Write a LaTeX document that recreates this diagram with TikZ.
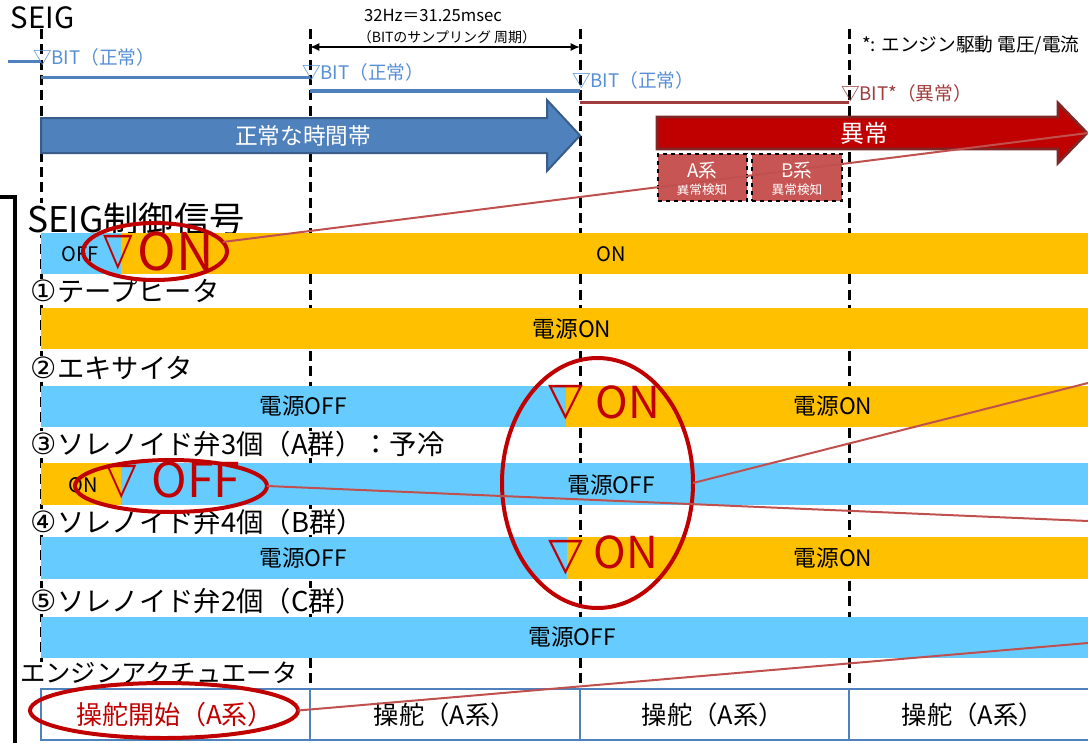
\documentclass[tikz,border=0pt]{standalone}
\usepackage{fontspec}
\setmainfont{Noto Sans CJK JP}
\newfontfamily\circfont{DejaVu Sans}
\newfontfamily\trifont{DejaVu Sans}
\usetikzlibrary{arrows.meta,shapes.geometric}
\definecolor{barblue}{HTML}{66CCFF}
\definecolor{barorange}{HTML}{FFC000}
\definecolor{arrowblue}{HTML}{4F81BD}
\definecolor{arrowblueedge}{HTML}{385D8A}
\definecolor{arrowred}{HTML}{C00000}
\definecolor{arrowrededge}{HTML}{7F2626}
\definecolor{bitblue}{HTML}{558ED5}
\definecolor{linered}{HTML}{A03C3C}
\definecolor{ringred}{HTML}{C00000}
\definecolor{calloutred}{HTML}{C0504D}
\definecolor{sysred}{HTML}{C65553}
\definecolor{actblue}{HTML}{4F81BD}
\newcommand{\setfs}[1]{\fontsize{#1pt}{#1pt}\selectfont}
\newcommand{\circnum}[1]{{\circfont\setfs{22}#1}}
\newcommand{\tri}[2]{\scalebox{#2}[1]{\trifont\bfseries\setfs{#1}▽}}
\tikzset{
  vdash/.style={line width=2.25pt, dash pattern=on 7.5pt off 4pt},
  bluebar/.style={fill=barblue},
  orangebar/.style={fill=barorange},
  rowlabel/.style={anchor=west, font=\setfs{20.5}, fill=white},
  bartext/.style={font=\setfs{17}},
  smalltext/.style={font=\setfs{15}},
  bitlabel/.style={anchor=west, text=bitblue, font=\setfs{14}},
  bitline/.style={draw=arrowblue, line width=2.25pt},
  redring/.style={ellipse, draw=ringred, line width=3pt, inner sep=0pt},
  callout/.style={draw=calloutred, line width=1.5pt},
  bigmark/.style={text=ringred, anchor=base east},
  bigtri/.style={text=ringred, anchor=north},
  actbox/.style={draw=actblue, line width=2pt, fill=white},
  sysbox/.style={draw=black, dashed, line width=1.2pt, fill=sysred},
  every node/.style={inner sep=0pt, outer sep=0pt}
}
\begin{document}
\begin{tikzpicture}[x=0.75pt,y=-0.75pt]
\useasboundingbox (0,0) rectangle (1088,742);
% dashed time lines
\foreach \x in {41,310,580,849} \draw[vdash] (\x,29) -- (\x,689);
% bracket
\draw[line width=2.5pt] (0,197) -- (15,197) -- (15,745);
% title
\node[anchor=west, font=\setfs{22}] (seig) at (11,18) {SEIG};
\node[anchor=west, font=\setfs{14}] (note) at (862,45) {*: エンジン駆動 電圧/電流};
% BIT sampling lines
\coordinate (b0) at (8,62); \coordinate (b1) at (41,62);
\coordinate (b2) at (41,78); \coordinate (b3) at (310,78);
\coordinate (b4) at (310,91); \coordinate (b5) at (580,91);
\coordinate (b6) at (580,102); \coordinate (b7) at (849,102);
\draw[bitline] (b0) -- (b1);
\draw[bitline] (b2) -- (b3);
\draw[bitline] (b4) -- (b5);
\draw[bitline, draw=linered] (b6) -- (b7);
\node[bitlabel] (bit1) at (33,57) {▽BIT（正常）};
\node[bitlabel] (bit2) at (302,72) {▽BIT（正常）};
\node[bitlabel] (bit3) at (572,80) {▽BIT（正常）};
\node[bitlabel, text=linered] (bit4) at (841,93) {▽BIT*（異常）};
% period dimension
\coordinate (p1) at (310,47); \coordinate (p2) at (580,47);
\draw[line width=1.2pt, {Latex[length=7pt,width=6pt]}-{Latex[length=7pt,width=6pt]}] (p1) -- (p2);
\node[font=\setfs{12.5}] (hz) at (433,16) {32Hz＝31.25msec};
\node[font=\setfs{10.5}] (per) at (447,37) {（BITのサンプリング 周期）};
% big arrows
\draw[fill=arrowblue, draw=arrowblueedge, line width=1.5pt]
  (41,118) -- (547,118) -- (547,100) -- (580,135.5) -- (547,171) -- (547,153) -- (41,153) -- cycle;
\node[text=white, font=\setfs{17}] (normal) at (303,136) {正常な時間帯};
\draw[fill=arrowred, draw=arrowrededge, line width=2pt]
  (657,117) -- (1058,117) -- (1058,103) -- (1087,133) -- (1058,163) -- (1058,149) -- (657,149) -- cycle;
\node[text=white, font=\setfs{18}] (abn) at (864,133) {異常};
% detection boxes
\node[sysbox, minimum width=66.75pt, minimum height=35.25pt] (sa) at (702.5,177.5) {};
\node[sysbox, minimum width=67.5pt, minimum height=35.25pt] (sb) at (797,177.5) {};
\node[text=white, font=\setfs{14}] (sat) at (702,171) {A系};
\node[text=white, font=\setfs{9.5}] (sas) at (702,190) {異常検知};
\node[text=white, font=\setfs{14}] (sbt) at (797,171) {B系};
\node[text=white, font=\setfs{9.5}] (sbs) at (797,190) {異常検知};
% row labels (white backing hides the time lines behind them)
\node[rowlabel, font=\setfs{26.5}] (r0) at (27,219) {SEIG制御信号};
\node[rowlabel] (r1) at (31,291) {\circnum{①}テープヒータ};
\node[rowlabel] (r2) at (31,368) {\circnum{②}エキサイタ};
\node[rowlabel] (r3) at (31,444) {\circnum{③}ソレノイド弁3個（A群）：予冷};
\node[rowlabel] (r4) at (31,522) {\circnum{④}ソレノイド弁4個（B群）};
\node[rowlabel] (r5) at (31,601) {\circnum{⑤}ソレノイド弁2個（C群）};
\node[rowlabel, font=\setfs{19}] (r6) at (20,673) {エンジンアクチュエータ};
% bars
\fill[bluebar] (41,233) rectangle (121,274);
\fill[orangebar] (121,233) rectangle (1088,274);
\fill[orangebar] (41,308) rectangle (1088,349);
\fill[bluebar] (41,386) rectangle (566,427);
\fill[orangebar] (566,386) rectangle (1088,427);
\fill[orangebar] (41,463) rectangle (121,505);
\fill[bluebar] (121,463) rectangle (1088,505);
\fill[bluebar] (41,537) rectangle (567,579);
\fill[orangebar] (567,537) rectangle (1088,579);
\fill[bluebar] (41,617) rectangle (1088,658);
\node[smalltext] (t1a) at (80,254) {OFF};
\node[smalltext] (t1b) at (611,254) {ON};
\node[bartext] (t2) at (572,329) {電源ON};
\node[bartext] (t3a) at (303,406) {電源OFF};
\node[bartext] (t3b) at (833,406) {電源ON};
\node[smalltext] (t4a) at (83,485) {ON};
\node[bartext] (t4b) at (611,485) {電源OFF};
\node[bartext] (t5a) at (303,558) {電源OFF};
\node[bartext] (t5b) at (833,558) {電源ON};
\node[bartext] (t6) at (572,637) {電源OFF};
% actuator boxes
\draw[actbox] (41,689) rectangle (310,740);
\draw[actbox] (310,689) rectangle (580,740);
\draw[actbox] (580,689) rectangle (849,740);
\draw[actbox] (849,689) rectangle (1092,740);
\node[text=arrowred, font=\setfs{19.5}] (a1) at (175,715) {操舵開始（A系）};
\node[font=\setfs{19}] (a2) at (445,715) {操舵（A系）};
\node[font=\setfs{19}] (a3) at (713,715) {操舵（A系）};
\node[font=\setfs{19}] (a4) at (973,715) {操舵（A系）};
% red marks
\node[bigtri] (m1v) at (118,235) {\tri{34}{0.85}};
\node[bigmark, font=\setfs{39}] (m1) at (214,270) {ON};
\node[bigtri] (m2v) at (566,385) {\tri{34}{1.0}};
\node[bigmark, font=\setfs{33}] (m2) at (660,418) {ON};
\node[bigtri] (m3v) at (566,540) {\tri{34}{1.0}};
\node[bigmark, font=\setfs{33}] (m3) at (658,568) {ON};
\node[bigtri] (m4v) at (122,465) {\tri{33}{0.9}};
\node[bigmark, font=\setfs{36}] (m4) at (240,497) {OFF};
% rings
\node[redring, minimum width=108pt, minimum height=42.75pt] (e1) at (155,251.5) {};
\node[redring, minimum width=143.25pt, minimum height=187.5pt] (e2) at (597.5,483) {};
\node[redring, minimum width=144pt, minimum height=39pt] (e3) at (171,486) {};
\node[redring, minimum width=201pt, minimum height=41.25pt] (e4) at (164,710.5) {};
% callout lines
\coordinate (c1) at (1088,133);
\coordinate (c2) at (1088,383);
\coordinate (c3) at (1088,521);
\coordinate (c4) at (1088,643);
\draw[callout] (e1.8) -- (c1);
\draw[callout] (e2.east) -- (c2);
\draw[callout] (e3.east) -- (c3);
\draw[callout] (e4.east) -- (c4);
\end{tikzpicture}
\end{document}
